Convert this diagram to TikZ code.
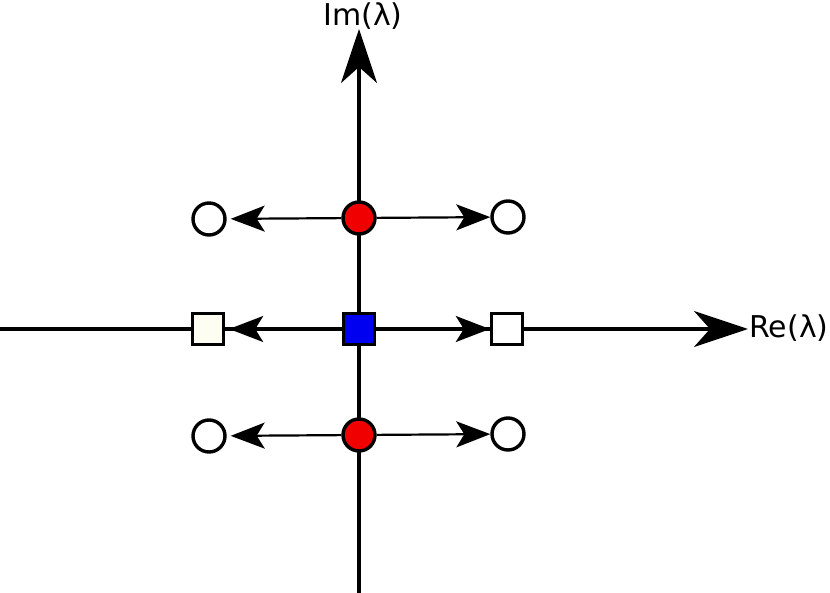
\documentclass[tikz,border=0pt]{standalone}
\usepackage{fontspec}
\setmainfont{DejaVu Sans}
\usetikzlibrary{arrows.meta}
\definecolor{eigred}{HTML}{F00000}
\definecolor{eigblue}{HTML}{0000F0}
\definecolor{ivory}{HTML}{FDFDF2}
\begin{document}
\begin{tikzpicture}[x=0.5pt,y=-0.5pt,
    axis/.style={line width=1.7pt,-{Stealth[length=27pt,width=18pt,inset=8pt]}},
    move/.style={line width=1.1pt,-{Stealth[length=17pt,width=13pt,inset=4pt]}},
    root/.style={circle,draw,line width=1.7pt,minimum size=16pt,inner sep=0pt},
    sq/.style={rectangle,draw,line width=1.7pt,minimum size=15.5pt,inner sep=0pt},
    lbl/.style={inner sep=0pt,font=\fontsize{15}{18}\selectfont}]
    \useasboundingbox (0,0) rectangle (830,593);

    % axes
    \coordinate (reW) at (0,329);
    \coordinate (reE) at (748,329);
    \coordinate (imS) at (359,593);
    \coordinate (imN) at (359,29);
    \draw[axis] (reW) -- (reE);
    \draw[axis] (imS) -- (imN);
    \node[lbl,anchor=base] (imlbl) at (363,26) {Im(λ)};
    \node[lbl,anchor=base west] (relbl) at (749,337) {Re(λ)};

    % eigenvalues before and after
    \node[root,fill=eigred] (rtop) at (359,218) {};
    \node[root,fill=white] (ctopl) at (209,219) {};
    \node[root,fill=white] (ctopr) at (508,217) {};
    \node[sq,fill=eigblue] (smid) at (359,329) {};
    \node[sq,fill=ivory] (smidl) at (208,329) {};
    \node[sq,fill=white] (smidr) at (507,329) {};
    \node[root,fill=eigred] (rbot) at (359,435) {};
    \node[root,fill=white] (cbotl) at (209,436) {};
    \node[root,fill=white] (cbotr) at (508,434) {};

    % splitting
    \draw[move,shorten >=2pt] (rtop) -- (ctopl);
    \draw[move] (rtop) -- (ctopr);
    \draw[move,shorten >=2pt] (smid) -- (smidl);
    \draw[move] (smid) -- (smidr);
    \draw[move,shorten >=2pt] (rbot) -- (cbotl);
    \draw[move] (rbot) -- (cbotr);
\end{tikzpicture}
\end{document}
